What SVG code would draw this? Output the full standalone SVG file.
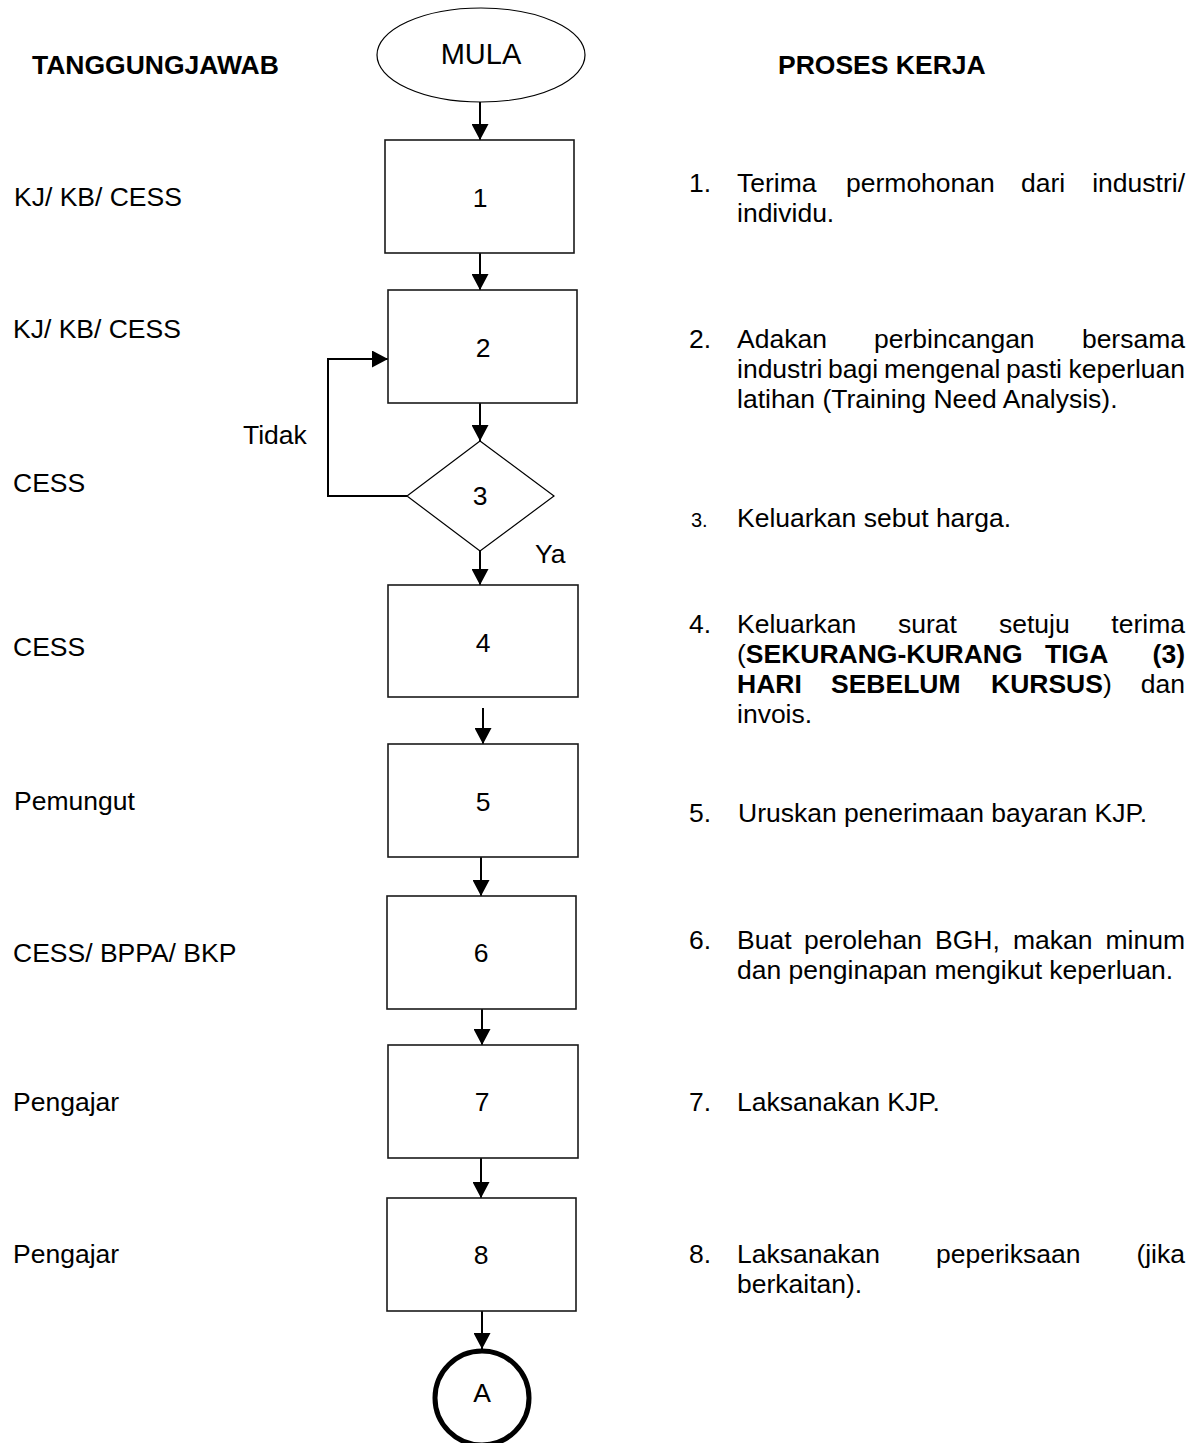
<svg xmlns="http://www.w3.org/2000/svg" width="1198" height="1443" viewBox="0 0 1198 1443">
  <defs>
    <marker id="arrow" markerUnits="userSpaceOnUse" markerWidth="16" markerHeight="17" refX="16" refY="8.5" orient="auto">
      <path d="M0,0 L16,8.5 L0,17 z" fill="#000"/>
    </marker>
    <style>
      text { font-family: "Liberation Sans", Arial, sans-serif; font-size: 26.5px; fill: #000; }
      .hd { font-weight: bold; }
      .b { font-weight: bold; }
      .box { fill: #fff; stroke: #1a1a1a; stroke-width: 1.6; }
      .num { text-anchor: middle; }
      .conn { fill: none; stroke: #000; stroke-width: 2; marker-end: url(#arrow); }
      .end { text-anchor: end; }
    </style>
  </defs>
  <rect width="1198" height="1443" fill="#fff"/>

  <!-- column headings -->
  <text class="hd" x="32" y="74">TANGGUNGJAWAB</text>
  <text class="hd" x="778" y="74">PROSES KERJA</text>

  <!-- responsibility column -->
  <g id="roles">
    <text x="14" y="206">KJ/ KB/ CESS</text>
    <text x="13" y="338">KJ/ KB/ CESS</text>
    <text x="13" y="492">CESS</text>
    <text x="13" y="656">CESS</text>
    <text x="14" y="810">Pemungut</text>
    <text x="13" y="962">CESS/ BPPA/ BKP</text>
    <text x="13" y="1111">Pengajar</text>
    <text x="13" y="1263">Pengajar</text>
  </g>

  <!-- connectors -->
  <g id="connectors">
    <line class="conn" x1="480" y1="102" x2="480" y2="140"/>
    <line class="conn" x1="480" y1="253" x2="480" y2="290"/>
    <line class="conn" x1="480" y1="403" x2="480" y2="441"/>
    <polyline class="conn" points="407,496 328,496 328,359 388,359"/>
    <line class="conn" x1="480" y1="551" x2="480" y2="585"/>
    <line class="conn" x1="483" y1="708" x2="483" y2="744"/>
    <line class="conn" x1="481" y1="857" x2="481" y2="896"/>
    <line class="conn" x1="482" y1="1009" x2="482" y2="1045"/>
    <line class="conn" x1="481" y1="1158" x2="481" y2="1198"/>
    <line class="conn" x1="482" y1="1311" x2="482" y2="1349"/>
    <text x="243" y="444">Tidak</text>
    <text x="535" y="563">Ya</text>
  </g>

  <!-- flow nodes -->
  <g id="start">
    <ellipse cx="481" cy="55" rx="104" ry="47" fill="#fff" stroke="#000" stroke-width="1.2"/>
    <text class="num" x="481" y="64" style="font-size:29px">MULA</text>
  </g>
  <g id="step1">
    <rect class="box" x="385" y="140" width="189" height="113"/>
    <text class="num" x="480" y="207">1</text>
  </g>
  <g id="step2">
    <rect class="box" x="388" y="290" width="189" height="113"/>
    <text class="num" x="483" y="357">2</text>
  </g>
  <g id="step3">
    <polygon points="480,441 554,496 480,551 407,496" fill="#fff" stroke="#000" stroke-width="1.2"/>
    <text class="num" x="480" y="505">3</text>
  </g>
  <g id="step4">
    <rect class="box" x="388" y="585" width="190" height="112"/>
    <text class="num" x="483" y="652">4</text>
  </g>
  <g id="step5">
    <rect class="box" x="388" y="744" width="190" height="113"/>
    <text class="num" x="483" y="811">5</text>
  </g>
  <g id="step6">
    <rect class="box" x="387" y="896" width="189" height="113"/>
    <text class="num" x="481" y="962">6</text>
  </g>
  <g id="step7">
    <rect class="box" x="388" y="1045" width="190" height="113"/>
    <text class="num" x="482" y="1111">7</text>
  </g>
  <g id="step8">
    <rect class="box" x="387" y="1198" width="189" height="113"/>
    <text class="num" x="481" y="1264">8</text>
  </g>
  <g id="connectorA">
    <circle cx="482" cy="1398" r="47" fill="#fff" stroke="#000" stroke-width="5"/>
    <text class="num" x="482" y="1402">A</text>
  </g>

  <!-- work process column -->
  <g id="process">
    <text x="689" y="192">1.</text>
    <text y="192"><tspan x="737">Terima</tspan><tspan x="846">permohonan</tspan><tspan x="1021">dari</tspan><tspan class="end" x="1185">industri/</tspan></text>
    <text x="737" y="222">individu.</text>

    <text x="689" y="348">2.</text>
    <text y="348"><tspan x="737">Adakan</tspan><tspan x="874">perbincangan</tspan><tspan class="end" x="1185">bersama</tspan></text>
    <text y="378"><tspan x="737">industri</tspan><tspan x="828">bagi</tspan><tspan x="884">mengenal</tspan><tspan x="1006">pasti</tspan><tspan class="end" x="1185">keperluan</tspan></text>
    <text x="737" y="408">latihan (Training Need Analysis).</text>

    <text x="691" y="527" style="font-size:20px">3.</text>
    <text x="737" y="527">Keluarkan sebut harga.</text>

    <text x="689" y="633">4.</text>
    <text y="633"><tspan x="737">Keluarkan</tspan><tspan x="898">surat</tspan><tspan x="999">setuju</tspan><tspan class="end" x="1185">terima</tspan></text>
    <text y="663"><tspan x="737">(</tspan><tspan class="b">SEKURANG-KURANG</tspan><tspan class="b" x="1045">TIGA</tspan><tspan class="b end" x="1185">(3)</tspan></text>
    <text y="693"><tspan class="b" x="737">HARI</tspan><tspan class="b" x="831">SEBELUM</tspan><tspan x="991"><tspan class="b">KURSUS</tspan>)</tspan><tspan class="end" x="1185">dan</tspan></text>
    <text x="737" y="723">invois.</text>

    <text x="689" y="822">5.</text>
    <text x="738" y="822">Uruskan penerimaan bayaran KJP.</text>

    <text x="689" y="949">6.</text>
    <text y="949"><tspan x="737">Buat</tspan><tspan x="804">perolehan</tspan><tspan x="935">BGH,</tspan><tspan x="1013">makan</tspan><tspan class="end" x="1185">minum</tspan></text>
    <text x="737" y="979">dan penginapan mengikut keperluan.</text>

    <text x="689" y="1111">7.</text>
    <text x="737" y="1111">Laksanakan KJP.</text>

    <text x="689" y="1263">8.</text>
    <text y="1263"><tspan x="737">Laksanakan</tspan><tspan x="936">peperiksaan</tspan><tspan class="end" x="1185">(jika</tspan></text>
    <text x="737" y="1293">berkaitan).</text>
  </g>
</svg>
